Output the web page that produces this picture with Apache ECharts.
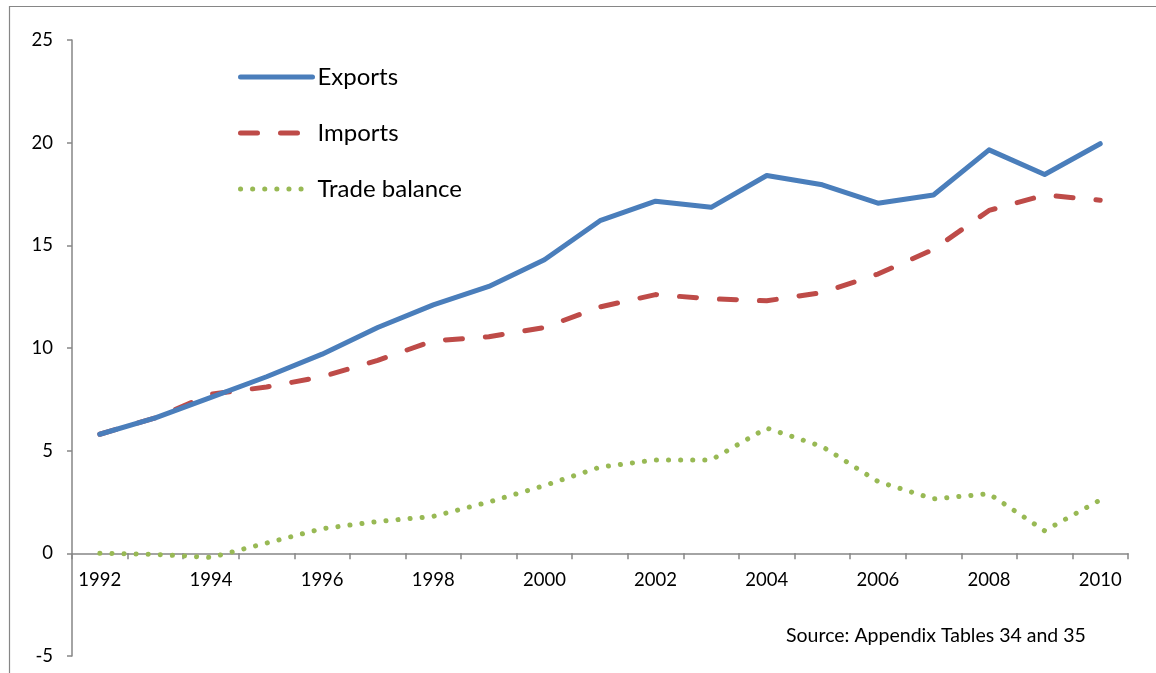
<!DOCTYPE html>
<html>
<head>
<meta charset="utf-8">
<script src="https://cdn.jsdelivr.net/npm/echarts@6/dist/echarts.min.js"></script>
<style>
  html, body { margin: 0; padding: 0; background: #ffffff; }
  #chart { width: 1156px; height: 673px; }
</style>
</head>
<body>
<div id="chart"></div>
<script>
// Years on the horizontal axis
const years = ['1992', '1993', '1994', '1995', '1996', '1997', '1998', '1999', '2000', '2001',
               '2002', '2003', '2004', '2005', '2006', '2007', '2008', '2009', '2010'];

// Series values
const exportsValues = [5.8, 6.6, 7.6, 8.6, 9.7, 11.0, 12.1, 13.0, 14.3, 16.2,
                       17.15, 16.85, 18.4, 17.95, 17.05, 17.45, 19.65, 18.45, 19.95];
const importsValues = [5.8, 6.6, 7.75, 8.1, 8.6, 9.4, 10.35, 10.55, 11.0, 12.0,
                       12.6, 12.4, 12.3, 12.7, 13.6, 14.8, 16.7, 17.45, 17.2];
const balanceValues = [0, -0.05, -0.2, 0.5, 1.2, 1.55, 1.8, 2.5, 3.3, 4.2,
                       4.55, 4.55, 6.1, 5.2, 3.5, 2.65, 2.9, 1.1, 2.6];

// Series names and value-axis range
const seriesNames = ['Exports', 'Imports', 'Trade balance'];
const yMin = -5, yMax = 25, yStep = 5;
const sourceNote = 'Source: Appendix Tables 34 and 35';

const FONT = 'Lato, "Liberation Sans", sans-serif';
const AXIS_GREY = '#868686';
const BLUE = '#4A7EBB', RED = '#BE4B48', GREEN = '#98B954';

const styles = [
  { color: BLUE,  width: 5, type: 'solid',   cap: 'round', join: 'round', opacity: 1 },
  { color: RED,   width: 5, type: [17, 23],  cap: 'round', join: 'round', opacity: 1 },
  { color: GREEN, width: 5, type: [0.1, 12], cap: 'round', join: 'round', opacity: 1 }
];
const values = [exportsValues, importsValues, balanceValues];

const W = 1156, H = 673;
const GRID = { left: 72, right: 28, top: 40, bottom: 17 };
const plotH = H - GRID.top - GRID.bottom;
// The category axis crosses the value axis at zero
const zeroLift = plotH * (0 - yMin) / (yMax - yMin);

const chart = echarts.init(document.getElementById('chart'), null, { renderer: 'canvas' });

chart.setOption({
  backgroundColor: '#ffffff',
  animation: false,
  grid: Object.assign({ containLabel: false }, GRID),
  legend: {
    left: 238,
    top: 64,
    padding: 0,
    orient: 'vertical',
    itemWidth: 72,
    itemHeight: 26,
    itemGap: 30,
    selectedMode: false,
    textStyle: { fontFamily: FONT, fontSize: 24, color: '#000', lineHeight: 26 },
    data: seriesNames.map((n, i) => ({
      name: n,
      itemStyle: { color: 'rgba(0,0,0,0)', borderWidth: 0, opacity: 0 },
      lineStyle: { color: styles[i].color, width: 5, type: styles[i].type, cap: 'round', opacity: 1 }
    }))
  },
  xAxis: {
    type: 'category',
    data: years,
    boundaryGap: true,
    position: 'bottom',
    offset: -zeroLift,
    axisLine: { onZero: false, lineStyle: { color: AXIS_GREY, width: 1.5 } },
    axisTick: { show: true, interval: 0, length: 6, lineStyle: { color: AXIS_GREY, width: 1.5 } },
    axisLabel: { interval: 1, margin: 17, fontFamily: FONT, fontSize: 18.5, color: '#000' },
    splitLine: { show: false }
  },
  yAxis: {
    type: 'value',
    min: yMin,
    max: yMax,
    interval: yStep,
    axisLine: { show: true, lineStyle: { color: AXIS_GREY, width: 1.5 } },
    axisTick: { show: true, length: 5, lineStyle: { color: AXIS_GREY, width: 1.5 } },
    axisLabel: { margin: 19, fontFamily: FONT, fontSize: 18.5, color: '#000' },
    splitLine: { show: false }
  },
  series: seriesNames.map((n, i) => ({
    name: n,
    type: 'line',
    data: values[i],
    symbol: 'none',
    showSymbol: false,
    smooth: false,
    itemStyle: { color: styles[i].color },
    lineStyle: styles[i],
    z: 3 - i
  })),
  graphic: [
    {
      type: 'polyline',
      shape: { points: [[9.5, 700], [9.5, 6.5], [1200, 6.5]] },
      style: { stroke: AXIS_GREY, lineWidth: 1.2, fill: null },
      silent: true
    },
    {
      type: 'text',
      left: 786,
      top: 626,
      style: { text: sourceNote, fontFamily: FONT, fontSize: 19.5, fill: '#000' }
    }
  ]
});
</script>
</body>
</html>
